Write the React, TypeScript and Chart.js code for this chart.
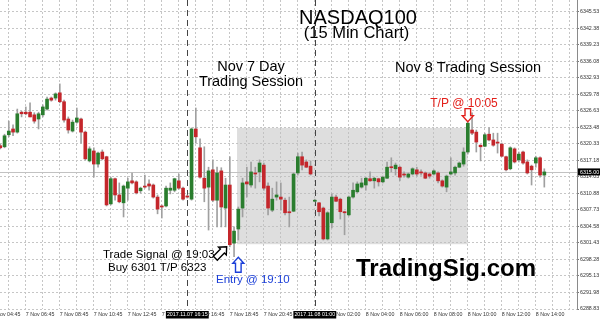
import React, { useEffect, useRef } from "react";
import { Chart, registerables } from "chart.js";

Chart.register(...registerables);

// 15-minute bars, 7 Nov 05:15 -> 8 Nov 14:30 (index 0 = 7 Nov 05:15)
const opens = [
  6320.0, 6319.8, 6322.1, 6323.2, 6322.6, 6326.4, 6326.4, 6326.4, 6325.9, 6325.1,
  6325.9, 6327.0, 6329.1, 6329.1, 6330.1, 6328.4, 6325.1, 6322.8, 6324.5, 6325.1,
  6322.6, 6317.1, 6319.0, 6316.5, 6318.8, 6317.9, 6308.9, 6313.7, 6310.6, 6309.1,
  6311.9, 6313.3, 6313.1, 6311.4, 6312.3, 6312.7, 6312.5, 6310.2, 6308.5, 6308.5,
  6311.5, 6311.5, 6313.3, 6311.9, 6310.4, 6309.8, 6323.2, 6319.6, 6313.8, 6312.1,
  6315.4, 6309.6, 6315.2, 6308.1, 6312.5, 6301.4, 6304.1, 6308.1, 6313.1, 6312.5,
  6314.8, 6315.0, 6316.3, 6312.3, 6307.7, 6310.2, 6310.2, 6309.6, 6307.4, 6307.5,
  6314.8, 6317.9, 6316.9, 6316.1, 6309.4, 6309.1, 6308.1, 6302.2, 6305.3, 6310.2,
  6309.8, 6307.4, 6306.8, 6310.2, 6311.2, 6312.1, 6312.5, 6313.7, 6313.3, 6313.7,
  6313.1, 6313.8, 6315.9, 6315.6, 6315.9, 6314.6, 6314.0, 6314.6, 6315.4, 6315.0,
  6314.8, 6314.6, 6314.6, 6314.8, 6313.3, 6312.1, 6314.6, 6314.8, 6315.9, 6316.5,
  6318.8, 6323.0, 6322.6, 6320.1, 6319.9, 6322.2, 6321.1, 6320.7, 6320.3, 6317.9,
  6315.6, 6319.4, 6317.3, 6318.8, 6316.9, 6316.1, 6316.7, 6317.7, 6314.4,
];
const highs = [
  6320.3, 6322.2, 6324.7, 6324.0, 6327.0, 6326.6, 6327.4, 6328.2, 6326.3, 6326.4,
  6327.8, 6329.3, 6329.3, 6330.1, 6331.8, 6328.7, 6325.5, 6324.9, 6327.2, 6325.3,
  6322.8, 6319.8, 6319.6, 6318.8, 6319.2, 6318.0, 6314.0, 6313.8, 6312.9, 6312.5,
  6313.8, 6314.8, 6313.3, 6312.1, 6314.4, 6313.5, 6312.7, 6310.6, 6308.7, 6312.3,
  6312.9, 6313.8, 6314.6, 6312.1, 6310.6, 6323.4, 6327.2, 6321.3, 6319.8, 6315.9,
  6317.3, 6315.9, 6315.8, 6313.8, 6317.9, 6304.5, 6308.3, 6313.8, 6315.9, 6316.9,
  6315.9, 6317.3, 6316.7, 6312.9, 6311.9, 6313.1, 6312.9, 6310.0, 6310.2, 6314.8,
  6318.6, 6318.8, 6317.3, 6317.1, 6309.8, 6309.2, 6308.3, 6307.4, 6310.8, 6310.6,
  6310.0, 6307.5, 6310.4, 6312.9, 6313.1, 6313.8, 6314.0, 6315.0, 6314.0, 6313.8,
  6314.2, 6316.9, 6317.7, 6316.7, 6316.1, 6315.0, 6314.8, 6315.8, 6315.9, 6315.4,
  6315.0, 6314.8, 6315.4, 6315.0, 6313.5, 6314.4, 6317.7, 6316.1, 6316.9, 6319.6,
  6324.5, 6326.3, 6323.0, 6320.2, 6322.4, 6323.4, 6322.4, 6322.4, 6320.5, 6318.0,
  6319.8, 6319.6, 6318.8, 6319.0, 6317.3, 6316.3, 6318.0, 6317.9, 6315.6,
];
const lows = [
  6319.4, 6319.6, 6321.7, 6321.9, 6322.4, 6325.5, 6325.9, 6325.5, 6324.3, 6323.2,
  6325.5, 6326.8, 6328.5, 6328.7, 6328.2, 6324.5, 6322.4, 6322.6, 6324.3, 6320.5,
  6317.3, 6316.9, 6314.0, 6315.9, 6317.3, 6308.5, 6308.7, 6309.6, 6309.1, 6306.4,
  6309.6, 6312.7, 6310.8, 6311.0, 6311.9, 6311.5, 6310.0, 6307.0, 6306.2, 6308.3,
  6310.8, 6311.2, 6311.7, 6309.6, 6310.0, 6309.6, 6320.5, 6313.8, 6309.3, 6303.9,
  6309.3, 6304.5, 6304.5, 6304.5, 6300.7, 6298.8, 6302.0, 6306.4, 6310.2, 6312.1,
  6311.9, 6313.1, 6311.5, 6306.8, 6307.4, 6309.6, 6307.7, 6306.8, 6304.5, 6307.4,
  6314.4, 6315.4, 6315.8, 6314.4, 6309.3, 6306.6, 6302.0, 6302.0, 6304.3, 6309.3,
  6306.0, 6303.0, 6306.6, 6310.0, 6311.0, 6311.9, 6311.5, 6313.2, 6311.9, 6312.3,
  6312.9, 6313.7, 6315.0, 6314.4, 6313.3, 6314.0, 6313.8, 6314.4, 6314.2, 6314.4,
  6313.7, 6313.8, 6314.4, 6312.9, 6312.1, 6311.2, 6314.4, 6314.4, 6315.8, 6316.1,
  6318.4, 6322.1, 6318.8, 6317.1, 6319.8, 6320.9, 6319.9, 6318.6, 6317.9, 6315.2,
  6315.4, 6316.7, 6316.9, 6316.5, 6314.6, 6312.5, 6315.9, 6314.0, 6312.1,
];
const closes = [
  6319.6, 6321.9, 6322.8, 6322.6, 6326.1, 6326.1, 6326.1, 6325.5, 6324.7, 6326.1,
  6327.4, 6328.9, 6328.7, 6329.9, 6328.4, 6324.9, 6323.0, 6324.5, 6325.3, 6322.6,
  6317.5, 6319.4, 6316.5, 6318.6, 6317.5, 6308.7, 6313.7, 6310.6, 6309.3, 6312.3,
  6313.1, 6312.9, 6311.0, 6311.9, 6312.1, 6312.3, 6310.2, 6307.9, 6308.3, 6311.9,
  6311.9, 6313.7, 6311.9, 6309.8, 6310.2, 6323.2, 6321.7, 6314.0, 6311.9, 6315.2,
  6309.6, 6314.8, 6308.3, 6312.5, 6301.1, 6303.7, 6307.9, 6312.9, 6312.7, 6315.0,
  6314.6, 6316.7, 6311.9, 6308.1, 6309.8, 6310.6, 6309.8, 6307.2, 6307.2, 6314.6,
  6317.9, 6316.3, 6315.9, 6314.6, 6309.6, 6307.4, 6302.2, 6307.2, 6310.2, 6309.4,
  6307.4, 6307.2, 6310.2, 6311.5, 6312.7, 6312.9, 6313.8, 6313.3, 6313.8, 6313.1,
  6314.0, 6315.9, 6315.8, 6316.3, 6314.0, 6314.4, 6314.6, 6315.6, 6314.6, 6314.8,
  6313.8, 6314.2, 6315.2, 6313.3, 6312.3, 6314.2, 6315.0, 6315.9, 6316.7, 6318.8,
  6324.3, 6322.4, 6320.7, 6319.8, 6322.1, 6321.1, 6320.1, 6320.5, 6318.0, 6315.4,
  6319.6, 6316.9, 6318.4, 6316.7, 6314.8, 6315.4, 6317.7, 6314.4, 6315.0,
];

const yTickValues = [
  6345.53, 6342.38, 6339.23, 6336.08, 6332.93, 6329.78, 6326.63, 6323.48, 6320.33, 6317.18,
  6314.03, 6310.88, 6307.73, 6304.58, 6301.43, 6298.28, 6295.13, 6291.98, 6288.83,
];
const xTickLabels = [
  "7 Nov 04:45", "7 Nov 06:45", "7 Nov 08:45", "7 Nov 10:45", "7 Nov 12:45", "7 Nov 14:45",
  "7 Nov 16:45", "7 Nov 18:45", "7 Nov 20:45", "7 Nov 22:45", "8 Nov 02:00", "8 Nov 04:00",
  "8 Nov 06:00", "8 Nov 08:00", "8 Nov 10:00", "8 Nov 12:00", "8 Nov 14:00",
];
const xTickFirstBar = -2;
const xTickEveryBars = 8;
const gridFirstBar = 2;
const gridEveryBars = 4;

const sessionMarks = [
  { bar: 44, label: "2017.11.07 16:15" },
  { bar: 74, label: "2017.11.08 01:00" },
];
const lastPrice = 6315.0;
const tradeZone = { fromBar: 55.7, toBar: 110, low: 6301.2, high: 6323.4 };
const entryBar = 56;
const takeProfitBar = 110;

const X_MIN = -0.07;
const X_MAX = 135.69;
const Y_MIN = 6288.83;
const Y_MAX = 6347.82;

const GREEN = "#2a7d2e";
const RED = "#c4262b";
const WICK = "#a0a0a0";
const FONT = '"Liberation Sans", Arial, sans-serif';

function outlineArrow(ctx: CanvasRenderingContext2D, cx: number, cy: number, len: number, angle: number, color: string) {
  // arrow pointing "up" in local coordinates, then rotated
  const sw = 2.8, hw = 5.5, hh = 6;
  ctx.save();
  ctx.translate(cx, cy);
  ctx.rotate(angle);
  const top = -len / 2, bot = len / 2;
  ctx.beginPath();
  ctx.moveTo(0, top);
  ctx.lineTo(hw, top + hh);
  ctx.lineTo(sw, top + hh);
  ctx.lineTo(sw, bot);
  ctx.lineTo(-sw, bot);
  ctx.lineTo(-sw, top + hh);
  ctx.lineTo(-hw, top + hh);
  ctx.closePath();
  ctx.fillStyle = "#ffffff";
  ctx.fill();
  ctx.lineWidth = 1.4;
  ctx.strokeStyle = color;
  ctx.stroke();
  ctx.restore();
}

const overlayPlugin = {
  id: "overlay",
  beforeDatasetsDraw(chart: any) {
    const { ctx, chartArea: a, scales } = chart;
    const xs = scales.x, ys = scales.y;
    ctx.save();
    // trade zone
    const x0 = xs.getPixelForValue(tradeZone.fromBar);
    const x1 = xs.getPixelForValue(tradeZone.toBar);
    const y0 = ys.getPixelForValue(tradeZone.high);
    const y1 = ys.getPixelForValue(tradeZone.low);
    ctx.fillStyle = "rgba(190,190,190,0.5)";
    ctx.fillRect(x0, y0, x1 - x0, y1 - y0);
    // last price line
    const yp = Math.round(ys.getPixelForValue(lastPrice)) + 0.5;
    ctx.strokeStyle = "#c2c2c2";
    ctx.lineWidth = 1;
    ctx.beginPath();
    ctx.moveTo(a.left, yp);
    ctx.lineTo(a.right, yp);
    ctx.stroke();
    // session separators
    ctx.strokeStyle = "#444";
    ctx.setLineDash([6, 4]);
    for (const m of sessionMarks) {
      const x = Math.round(xs.getPixelForValue(m.bar)) + 0.5;
      ctx.beginPath();
      ctx.moveTo(x, a.top);
      ctx.lineTo(x, a.bottom);
      ctx.stroke();
    }
    ctx.restore();
  },
  afterDraw(chart: any) {
    const { ctx, chartArea: a, scales } = chart;
    const xs = scales.x, ys = scales.y;
    ctx.save();
    // session date boxes on the time axis
    ctx.font = `5.3px ${FONT}`;
    ctx.textBaseline = "middle";
    ctx.textAlign = "center";
    for (const m of sessionMarks) {
      const x = xs.getPixelForValue(m.bar);
      const w = ctx.measureText(m.label).width + 2;
      ctx.fillStyle = "#000";
      ctx.fillRect(x - w / 2, a.bottom + 2, w, 7.5);
      ctx.fillStyle = "#fff";
      ctx.fillText(m.label, x, a.bottom + 5.8);
    }
    // last price box on the price axis
    const yp = ys.getPixelForValue(lastPrice);
    ctx.fillStyle = "#000";
    ctx.fillRect(a.right + 1, yp - 3.5, 600 - a.right - 1, 7);
    ctx.fillStyle = "#fff";
    ctx.textAlign = "left";
    ctx.fillText(lastPrice.toFixed(2), a.right + 3, yp + 0.2);

    const text = (s: string, x: number, y: number, font: string, color: string, align: CanvasTextAlign) => {
      ctx.font = font;
      ctx.fillStyle = color;
      ctx.textAlign = align;
      ctx.textBaseline = "alphabetic";
      ctx.fillText(s, x, y);
    };
    text("NASDAQ100", 358, 24, `20px ${FONT}`, "#000", "center");
    text("(15 Min Chart)", 356.5, 38, `16.5px ${FONT}`, "#000", "center");
    text("Nov 7 Day", 251, 71, `14.5px ${FONT}`, "#000", "center");
    text("Trading Session", 251, 86, `14.5px ${FONT}`, "#000", "center");
    text("Nov 8 Trading Session", 468, 72, `14.5px ${FONT}`, "#000", "center");
    text("T/P @ 10:05", 464, 107, `12px ${FONT}`, "#e3201b", "center");
    text("Trade Signal @ 19:03", 103, 258, `11.5px ${FONT}`, "#000", "left");
    text("Buy 6301 T/P 6323", 108, 271, `11.5px ${FONT}`, "#000", "left");
    text("Entry @ 19:10", 216, 283, `11.5px ${FONT}`, "#1b3fd8", "left");
    text("TradingSig.com", 356, 276, `bold 24px ${FONT}`, "#000", "left");

    // arrows
    const tpX = xs.getPixelForValue(takeProfitBar);
    const tpTip = ys.getPixelForValue(highs[takeProfitBar]) - 0.5;
    outlineArrow(ctx, tpX, tpTip - 6.5, 13, Math.PI, "#e3201b");
    const enX = xs.getPixelForValue(entryBar);
    const enTip = ys.getPixelForValue(lows[entryBar - 1]) + 0.5;
    outlineArrow(ctx, enX, enTip + 7.5, 15, 0, "#1b3fd8");
    outlineArrow(ctx, 221, 252.5, 16, Math.PI / 4, "#000");
    ctx.restore();
  },
};

export default function App() {
  const ref = useRef<HTMLCanvasElement>(null);
  useEffect(() => {
    const canvas = ref.current;
    if (!canvas) return;
    Chart.defaults.font.family = FONT;
    const idx = opens.map((_, i) => i);
    const bodyData = idx.map((i) => ({ x: i, y: [opens[i], closes[i]] }));
    const wickData = idx.map((i) => ({ x: i, y: [lows[i], highs[i]] }));
    const bodyColors = idx.map((i) => (closes[i] >= opens[i] ? GREEN : RED));

    const chart = new Chart(canvas, {
      type: "bar",
      data: {
        datasets: [
          {
            data: bodyData as any,
            backgroundColor: bodyColors,
            barThickness: 3,
            minBarLength: 1,
            grouped: false,
            borderWidth: 0,
            order: 0,
            xAxisID: "x",
            yAxisID: "y",
          } as any,
          {
            data: wickData as any,
            backgroundColor: WICK,
            barThickness: 1,
            grouped: false,
            borderWidth: 0,
            order: 1,
            xAxisID: "x",
            yAxisID: "y",
          } as any,
        ],
      },
      options: {
        responsive: false,
        maintainAspectRatio: false,
        animation: false,
        layout: { padding: 0 },
        plugins: {
          legend: { display: false },
          tooltip: { enabled: false },
          title: { display: false },
        },
        scales: {
          x: {
            type: "linear",
            position: "bottom",
            min: X_MIN,
            max: X_MAX,
            bounds: "data",
            offset: false,
            grid: { display: false, drawTicks: false, offset: false },
            border: { display: false },
            ticks: {
              autoSkip: false,
              maxRotation: 0,
              minRotation: 0,
              align: "start",
              padding: 2,
              color: "#333",
              font: { size: 5.3, family: FONT },
              callback: (_v: any, i: number) => xTickLabels[i] ?? "",
            },
            afterBuildTicks: (s: any) => {
              s.ticks = xTickLabels.map((_, k) => ({ value: xTickFirstBar + k * xTickEveryBars }));
            },
            afterFit: (s: any) => {
              s.height = 11;
              s.paddingLeft = 0;
              s.paddingRight = 0;
            },
          },
          xg: {
            type: "linear",
            position: "top",
            min: X_MIN,
            max: X_MAX,
            bounds: "data",
            offset: false,
            grid: { color: "#c6c6c6", drawTicks: false, offset: false },
            border: { display: false, dash: [2, 2] },
            ticks: { display: false },
            afterBuildTicks: (s: any) => {
              const t: any[] = [];
              for (let v = gridFirstBar; v < X_MAX; v += gridEveryBars) t.push({ value: v });
              s.ticks = t;
            },
            afterFit: (s: any) => {
              s.height = 0;
              s.paddingLeft = 0;
              s.paddingRight = 0;
            },
          },
          y: {
            type: "linear",
            position: "right",
            min: Y_MIN,
            max: Y_MAX,
            bounds: "data",
            grid: { color: "#c6c6c6", tickColor: "#777", tickLength: 2, drawTicks: true },
            border: { display: true, color: "#8a8a8a", dash: [2, 2] },
            ticks: {
              padding: 1,
              color: "#333",
              font: { size: 5.3, family: FONT },
              callback: (v: any) => Number(v).toFixed(2),
            },
            afterBuildTicks: (s: any) => {
              s.ticks = yTickValues.map((v) => ({ value: v }));
            },
            afterFit: (s: any) => {
              s.width = 23;
              s.paddingTop = 0;
              s.paddingBottom = 0;
            },
          },
        } as any,
      },
      plugins: [overlayPlugin],
    });
    return () => chart.destroy();
  }, []);

  return (
    <div style={{ position: "fixed", left: 0, top: 0, width: 600, height: 320, background: "#fff" }}>
      <canvas ref={ref} width={600} height={320} style={{ display: "block", width: 600, height: 320 }} />
    </div>
  );
}
